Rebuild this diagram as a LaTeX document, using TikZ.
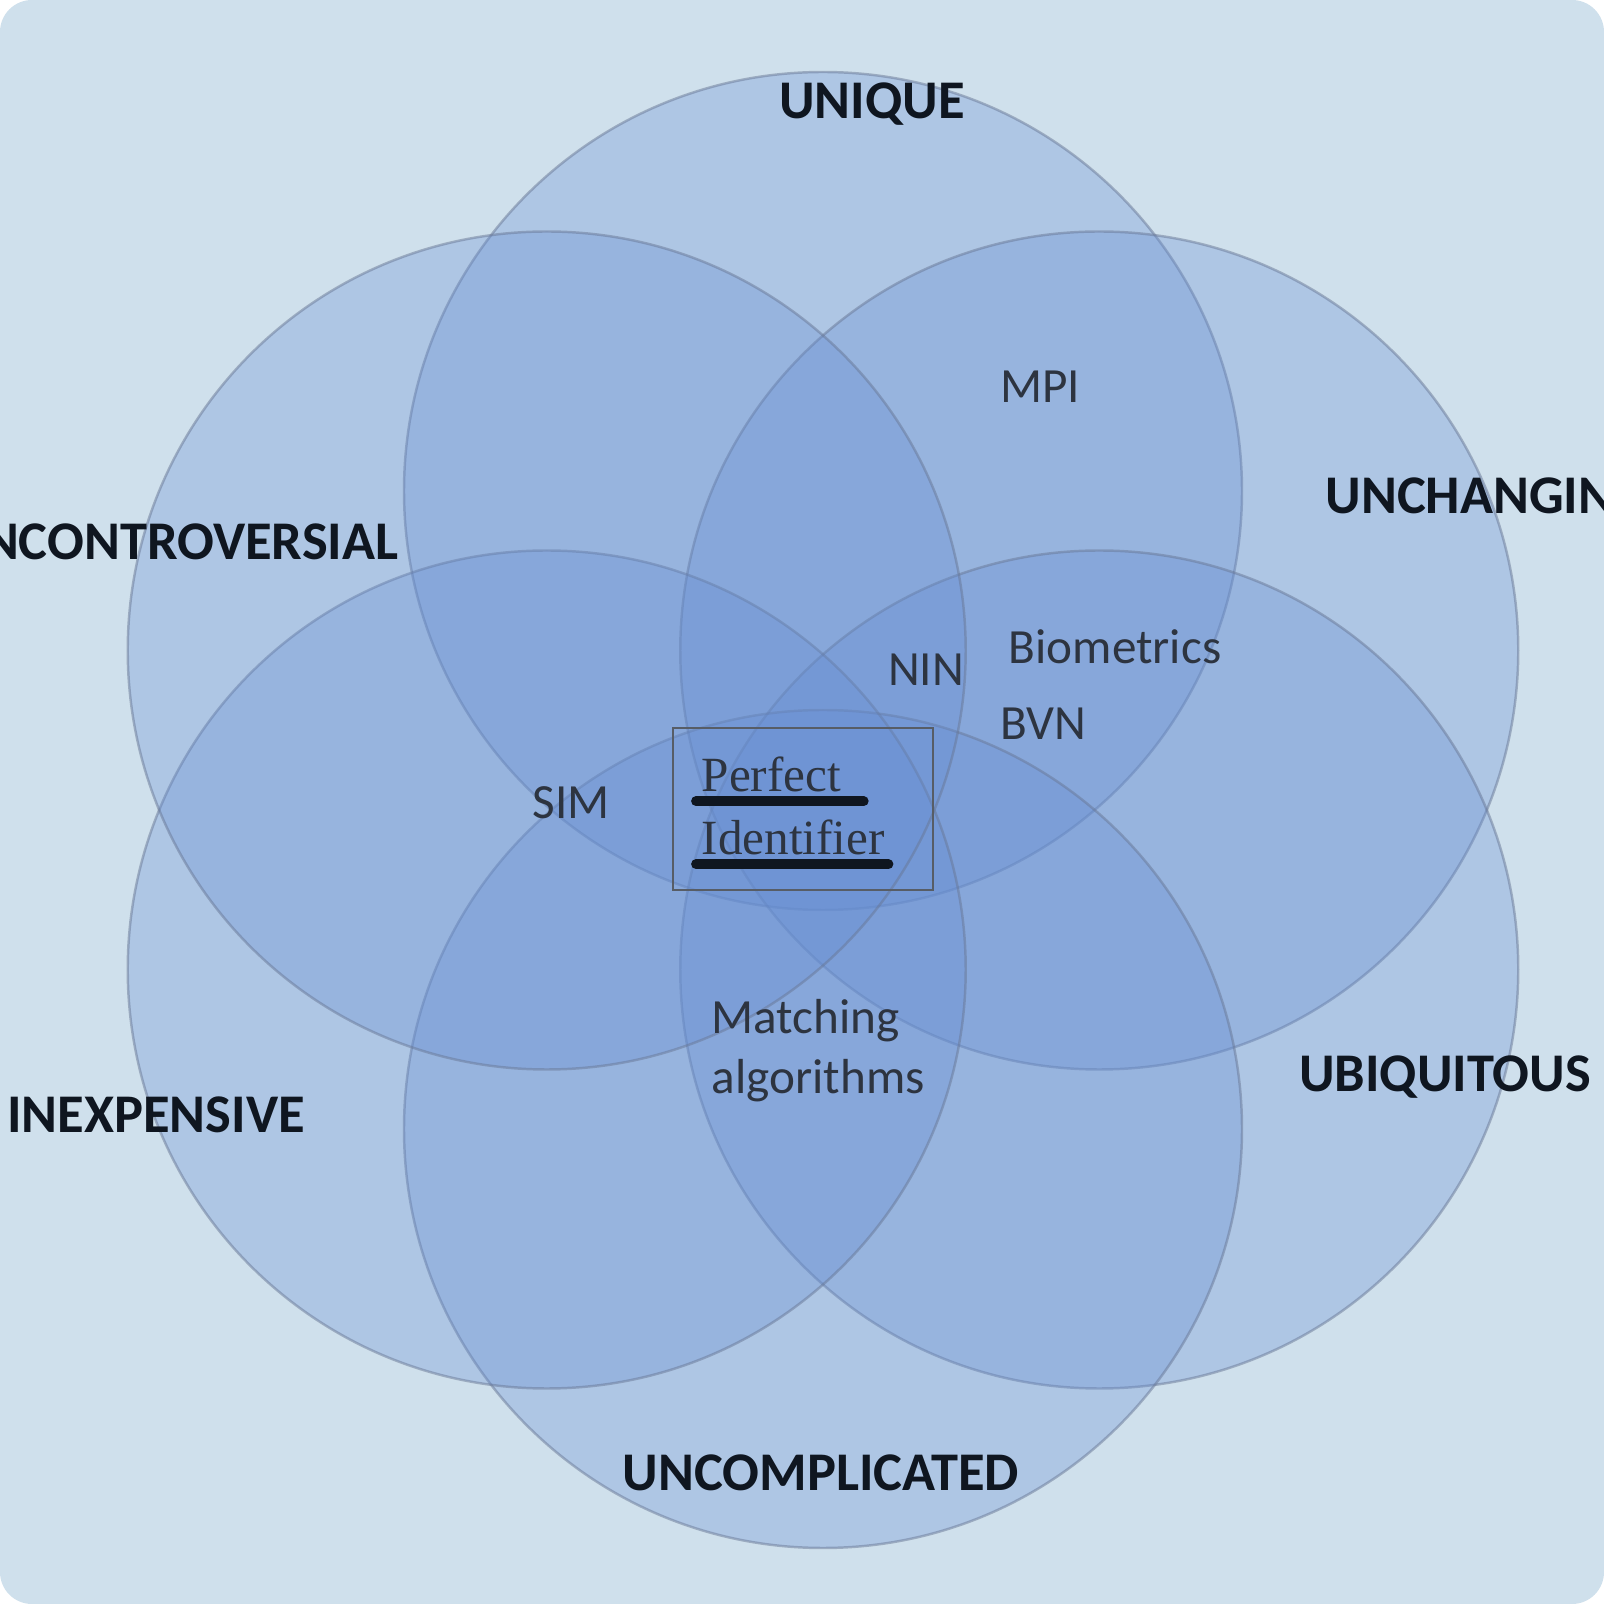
\documentclass[tikz,border=0pt]{standalone}
\usepackage{fontspec}
\setmainfont{Carlito}
\newfontfamily\boxfont{Liberation Serif}
\usetikzlibrary{positioning}
\definecolor{bgblue}{RGB}{207,224,236}
\definecolor{vennblue}{RGB}{100,140,210}
\definecolor{vennline}{RGB}{105,120,150}
\definecolor{itemgrey}{RGB}{45,52,64}
\definecolor{traitblack}{RGB}{15,22,32}

\begin{document}
\begin{tikzpicture}[
    venn/.style={fill=vennblue, fill opacity=0.3, draw=vennline, draw opacity=0.5, line width=0.7pt},
    trait/.style={font=\fontsize{15.5}{18}\selectfont\bfseries, text=traitblack, inner sep=0pt},
    item/.style={font=\fontsize{14}{17}\selectfont, text=itemgrey, inner sep=0pt},
    uline/.style={line width=2.8pt, line cap=round, traitblack},
]
    % Background
    \useasboundingbox (0,0) rectangle (16.04,16.04);
    \fill[white] (0,0) rectangle (16.04,16.04);
    \fill[bgblue, rounded corners=0.32cm] (0,0) rectangle (16.04,16.04);

    % Circles
    \foreach \a in {90,30,-30,-90,-150,150}
        \path[venn] (8.23,7.94) ++(\a:3.19) circle (4.19);

    % Outer labels
    \node[trait] (unique) at (8.72,15.00) {UNIQUE};
    \node[trait, anchor=east] (uncontro) at (3.99,10.62) {UNCONTROVERSIAL};
    \node[trait, anchor=west] (unchang) at (13.25,11.08) {UNCHANGING};
    \node[trait] (ubiq) at (14.45,5.27) {UBIQUITOUS};
    \node[trait] (inexp) at (1.56,4.89) {INEXPENSIVE};
    \node[trait] (uncompl) at (8.21,1.31) {UNCOMPLICATED};

    % Inner labels
    \node[item] (mpi) at (10.40,12.17) {MPI};
    \node[item] (bio) at (11.15,9.57) {Biometrics};
    \node[item] (nin) at (9.26,9.34) {NIN};
    \node[item] (bvn) at (10.43,8.80) {BVN};
    \node[item] (sim) at (5.71,8.01) {SIM};
    \node[item, anchor=west, align=left] (match) at (7.11,5.53) {Matching\\algorithms};

    % Perfect identifier box
    \node[draw=itemgrey!80, line width=0.8pt, minimum width=2.60cm, minimum height=1.62cm] (pbox) at (8.03,7.95) {};
    \node[item, font=\boxfont\fontsize{14}{17}\selectfont, text=itemgrey, anchor=west] (perfect) at (7.01,8.30) {Perfect};
    \node[item, font=\boxfont\fontsize{14}{17}\selectfont, text=itemgrey, anchor=west] (ident) at (7.01,7.67) {Identifier};
    \draw[uline] ([xshift=-0.05cm, yshift=-0.09cm]perfect.south west) -- ([xshift=0.22cm, yshift=-0.09cm]perfect.south east);
    \draw[uline] ([xshift=-0.05cm, yshift=-0.09cm]ident.south west) -- ([xshift=0.03cm, yshift=-0.09cm]ident.south east);
\end{tikzpicture}
\end{document}
